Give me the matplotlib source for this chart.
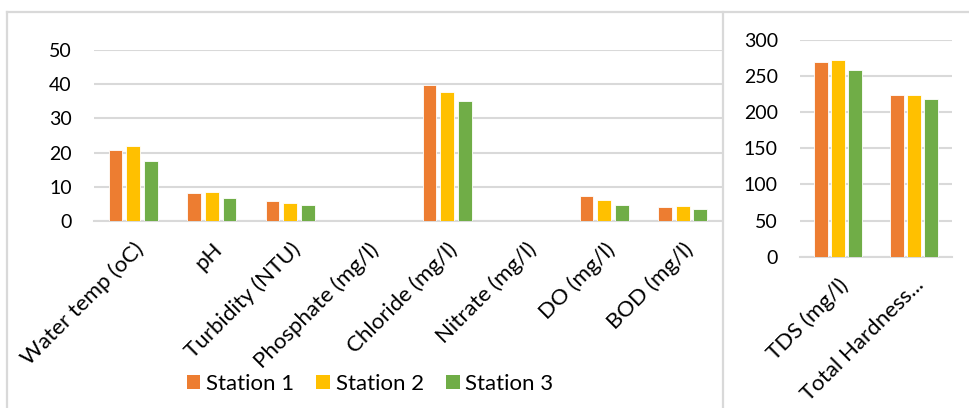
import matplotlib

matplotlib.use("Agg")
import matplotlib.pyplot as plt
import numpy as np
from matplotlib.lines import Line2D
from matplotlib.patches import Patch

# Datos
main_labels = [
    "Water temp (oC)",
    "pH",
    "Turbidity (NTU)",
    "Phosphate (mg/l)",
    "Chloride (mg/l)",
    "Nitrate (mg/l)",
    "DO (mg/l)",
    "BOD (mg/l)",
]
station1_main = [20.8, 8.1, 5.9, 0, 39.8, 0, 7.4, 4.1]
station2_main = [21.9, 8.4, 5.3, 0, 37.8, 0, 6.1, 4.5]
station3_main = [17.5, 6.6, 4.6, 0, 35.0, 0, 4.8, 3.4]

side_labels = ["TDS (mg/l)", "Total Hardness..."]
station1_side = [269, 224]
station2_side = [272, 224]
station3_side = [258, 219]

station_names = ["Station 1", "Station 2", "Station 3"]
colors = ["#ED7D31", "#FFC000", "#70AD47"]
GRID = "#D9D9D9"
TEXT = "#000000"

plt.rcParams["font.family"] = ["Lato", "DejaVu Sans"]

fig = plt.figure(figsize=(9.69, 4.08), dpi=100)


def draw_bars(ax, labels, series, ymax, step):
    """Dibuja barras agrupadas al estilo de una hoja de cálculo."""
    x = np.arange(len(labels))
    width = 0.175
    offsets = [-0.225, 0.0, 0.225]
    for values, color, offset in zip(series, colors, offsets):
        ax.bar(
            x + offset,
            values,
            width,
            color=color,
            edgecolor="white",
            linewidth=0.6,
            zorder=3,
        )
    ax.set_xlim(-0.5, len(labels) - 0.5)
    ax.set_ylim(0, ymax)
    ax.set_yticks(np.arange(0, ymax + 1, step))
    ax.yaxis.grid(True, color=GRID, linewidth=1.5, zorder=0)
    ax.set_axisbelow(True)
    for side in ("top", "right", "left"):
        ax.spines[side].set_visible(False)
    ax.spines["bottom"].set_color(GRID)
    ax.spines["bottom"].set_linewidth(1.5)
    ax.set_xticks(x)
    ax.set_xticklabels(
        labels, rotation=45, ha="right", rotation_mode="anchor", fontsize=16
    )
    ax.tick_params(axis="x", length=0, pad=13, colors=TEXT)
    ax.tick_params(axis="y", length=0, pad=16, labelsize=14, colors=TEXT)


ax_main = fig.add_axes([0.097, 0.4583, 0.648, 0.419])
draw_bars(ax_main, main_labels, [station1_main, station2_main, station3_main], 50, 10)

ax_side = fig.add_axes([0.8256, 0.3708, 0.1569, 0.531])
draw_bars(ax_side, side_labels, [station1_side, station2_side, station3_side], 300, 50)

# Marcos grises de los dos gráficos
frame_kw = dict(color=GRID, linewidth=1.6, transform=fig.transFigure)
top = 1 - 11.5 / 408
fig.add_artist(Line2D([7 / 969, 7 / 969], [0, top], **frame_kw))
fig.add_artist(Line2D([7 / 969, 1.0], [top, top], **frame_kw))
fig.add_artist(Line2D([723 / 969, 723 / 969], [0, top], **frame_kw))

handles = [Patch(facecolor=c, edgecolor="none") for c in colors]
fig.legend(
    handles,
    station_names,
    loc="center",
    bbox_to_anchor=(370 / 969, 1 - 384 / 408),
    ncol=3,
    frameon=False,
    fontsize=16,
    handlelength=0.62,
    handleheight=0.62,
    handletextpad=0.25,
    columnspacing=1.0,
)

fig.savefig("out.png", dpi=100, facecolor="white")
